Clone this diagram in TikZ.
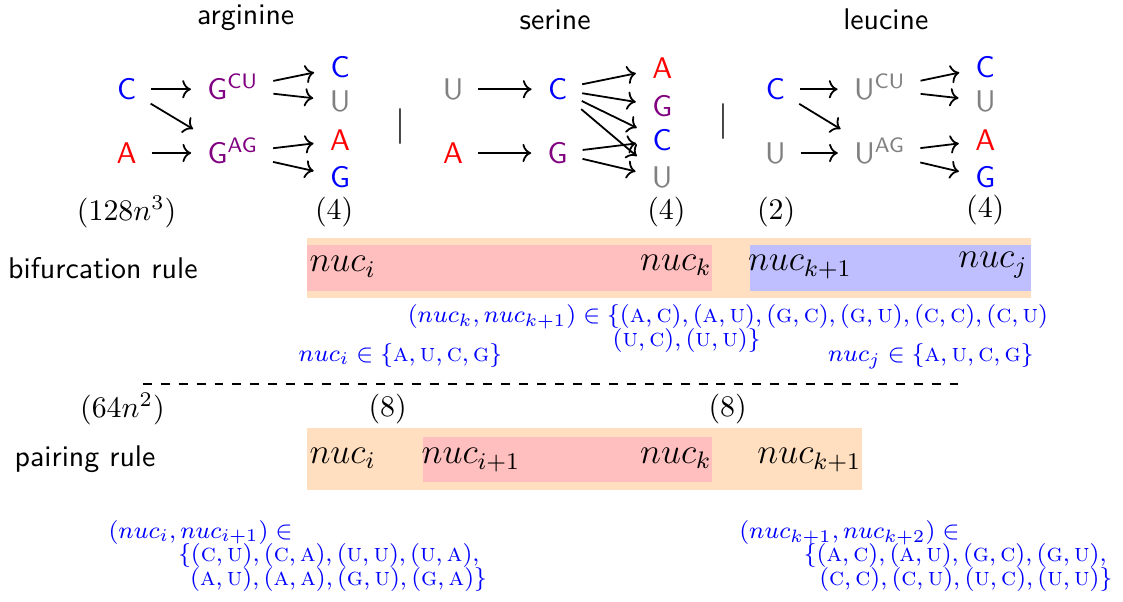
\documentclass[tikz,border=0pt]{standalone}
\definecolor{nucred}{RGB}{255, 0, 0}
\definecolor{nucblue}{RGB}{0, 0, 255}
\definecolor{nucpurple}{RGB}{128, 0, 128}
\definecolor{nucgray}{RGB}{128, 128, 128}
\definecolor{spanorange}{RGB}{255, 223, 191}
\definecolor{spanpink}{RGB}{255, 191, 191}
\definecolor{spanblue}{RGB}{191, 191, 255}
\usepackage{tikz}
\usetikzlibrary{arrows.meta}
\usepackage{amsmath, amssymb}
\newcommand{\nucpair}[2]{(\textsc{#1},\textsc{#2})}

\begin{document}
\begin{tikzpicture}[
  nt/.style={font=\sffamily, text height=6.9pt, text depth=0pt},
  arr/.style={->, semithick, shorten <=1.5pt, shorten >=2pt},
  rulename/.style={font=\sffamily},
  span/.style={font=\large},
  bset/.style={nucblue, font=\fontsize{8.5}{10}\selectfont, align=left, inner sep=0pt}
]
  \useasboundingbox (0,0) rectangle (13.21,7.07);

  \node[rulename] (arg) at (2.89,6.86) {arginine};
  \node[rulename] (ser) at (6.53,6.84) {serine};
  \node[rulename] (leu) at (10.42,6.84) {leucine};

  % arginine
  \node[nt, nucblue] (rC) at (1.49,6.02) {C};
  \node[nt, nucred] (rA) at (1.49,5.27) {A};
  \node[nt, nucpurple] (rGcu) at (2.74,6.02) {G\textsuperscript{CU}};
  \node[nt, nucpurple] (rGag) at (2.74,5.27) {G\textsuperscript{AG}};
  \node[nt, nucblue] (rC2) at (4.0,6.28) {C};
  \node[nt, nucgray] (rU2) at (4.0,5.88) {U};
  \node[nt, nucred] (rA2) at (4.0,5.42) {A};
  \node[nt, nucblue] (rG2) at (4.0,4.99) {G};
  \draw[arr] (rC) -- (rGcu);
  \draw[arr] (rC) -- (rGag);
  \draw[arr] (rA) -- (rGag);
  \draw[arr] (rGcu) -- (rC2);
  \draw[arr] (rGcu) -- (rU2);
  \draw[arr] (rGag) -- (rA2);
  \draw[arr] (rGag) -- (rG2);

  \node[font=\large] (bar1) at (4.71,5.58) {$|$};

  % serine
  \node[nt, nucgray] (sU) at (5.33,6.02) {U};
  \node[nt, nucred] (sA) at (5.33,5.27) {A};
  \node[nt, nucblue] (sC) at (6.56,6.02) {C};
  \node[nt, nucpurple] (sG) at (6.56,5.27) {G};
  \node[nt, nucred] (sA2) at (7.79,6.27) {A};
  \node[nt, nucpurple] (sG2) at (7.79,5.82) {G};
  \node[nt, nucblue] (sC2) at (7.79,5.42) {C};
  \node[nt, nucgray] (sU2) at (7.79,4.98) {U};
  \draw[arr] (sU) -- (sC);
  \draw[arr] (sA) -- (sG);
  \draw[arr] (sC) -- (sA2);
  \draw[arr] (sC) -- (sG2);
  \draw[arr] (sC) -- (sC2);
  \draw[arr] (sC) -- (sU2);
  \draw[arr] (sG) -- (sC2);
  \draw[arr] (sG) -- (sU2);

  \node[font=\large] (bar2) at (8.51,5.64) {$|$};

  % leucine
  \node[nt, nucblue] (lC) at (9.12,6.02) {C};
  \node[nt, nucgray] (lU) at (9.12,5.27) {U};
  \node[nt, nucgray] (lUcu) at (10.35,6.02) {U\textsuperscript{CU}};
  \node[nt, nucgray] (lUag) at (10.35,5.27) {U\textsuperscript{AG}};
  \node[nt, nucblue] (lC2) at (11.59,6.28) {C};
  \node[nt, nucgray] (lU2) at (11.59,5.88) {U};
  \node[nt, nucred] (lA2) at (11.59,5.42) {A};
  \node[nt, nucblue] (lG2) at (11.59,4.98) {G};
  \draw[arr] (lC) -- (lUcu);
  \draw[arr] (lC) -- (lUag);
  \draw[arr] (lU) -- (lUag);
  \draw[arr] (lUcu) -- (lC2);
  \draw[arr] (lUcu) -- (lU2);
  \draw[arr] (lUag) -- (lA2);
  \draw[arr] (lUag) -- (lG2);

  % bifurcation rule
  \node (cntBif) at (1.49,4.58) {$(128n^3)$};
  \node (cntI) at (3.93,4.58) {$(4)$};
  \node (cntK) at (7.84,4.58) {$(4)$};
  \node (cntK1) at (9.13,4.58) {$(2)$};
  \node (cntJ) at (11.59,4.60) {$(4)$};

  \node[rulename] (bifName) at (1.21,3.92) {bifurcation rule};
  \fill[spanorange] (3.61,3.565) rectangle (12.13,4.27);
  \fill[spanpink] (3.61,3.65) rectangle (8.38,4.19);
  \fill[spanblue] (8.82,3.65) rectangle (12.13,4.19);
  \node[span] (bI) at (4.03,3.93) {$nuc_i$};
  \node[span] (bK) at (7.95,3.95) {$nuc_k$};
  \node[span] (bK1) at (9.41,3.93) {$nuc_{k+1}$};
  \node[span] (bJ) at (11.68,3.95) {$nuc_j$};

  \node[bset, anchor=west] (bifPairs) at (4.79,3.21) {$(nuc_k, nuc_{k+1}) \in \{\nucpair{a}{c}, \nucpair{a}{u}, \nucpair{g}{c}, \nucpair{g}{u}, \nucpair{c}{c}, \nucpair{c}{u}$\\[-2pt]
    \hspace*{2.41cm}$\nucpair{u}{c}, \nucpair{u}{u}\}$};
  \node[bset] (bifI) at (4.71,2.89) {$nuc_i \in \{\textsc{a}, \textsc{u}, \textsc{c}, \textsc{g}\}$};
  \node[bset] (bifJ) at (10.95,2.88) {$nuc_j \in \{\textsc{a}, \textsc{u}, \textsc{c}, \textsc{g}\}$};

  \coordinate (sepL) at (1.68,2.55);
  \coordinate (sepR) at (11.27,2.55);
  \draw[dashed, semithick] (sepL) -- (sepR);

  % pairing rule
  \node (cntPair) at (1.44,2.26) {$(64n^2)$};
  \node (cntPI) at (4.56,2.26) {$(8)$};
  \node (cntPK) at (8.56,2.26) {$(8)$};

  \node[rulename] (pairName) at (1.0,1.67) {pairing rule};
  \fill[spanorange] (3.61,1.306) rectangle (10.14,2.035);
  \fill[spanpink] (4.98,1.40) rectangle (8.38,1.93);
  \node[span] (pI) at (4.03,1.68) {$nuc_i$};
  \node[span] (pI1) at (5.54,1.66) {$nuc_{i+1}$};
  \node[span] (pK) at (7.95,1.68) {$nuc_k$};
  \node[span] (pK1) at (9.52,1.66) {$nuc_{k+1}$};

  \node[bset, anchor=west] (pairI) at (1.27,0.53) {$(nuc_i, nuc_{i+1}) \in$\\[-2pt]
    \hspace*{0.82cm}$\{\nucpair{c}{u}, \nucpair{c}{a}, \nucpair{u}{u}, \nucpair{u}{a},$\\[-2pt]
    \hspace*{0.96cm}$\nucpair{a}{u}, \nucpair{a}{a}, \nucpair{g}{u}, \nucpair{g}{a}\}$};
  \node[bset, anchor=west] (pairK) at (8.69,0.53) {$(nuc_{k+1}, nuc_{k+2}) \in$\\[-2pt]
    \hspace*{0.76cm}$\{\nucpair{a}{c}, \nucpair{a}{u}, \nucpair{g}{c}, \nucpair{g}{u},$\\[-2pt]
    \hspace*{0.94cm}$\nucpair{c}{c}, \nucpair{c}{u}, \nucpair{u}{c}, \nucpair{u}{u}\}$};
\end{tikzpicture}
\end{document}
